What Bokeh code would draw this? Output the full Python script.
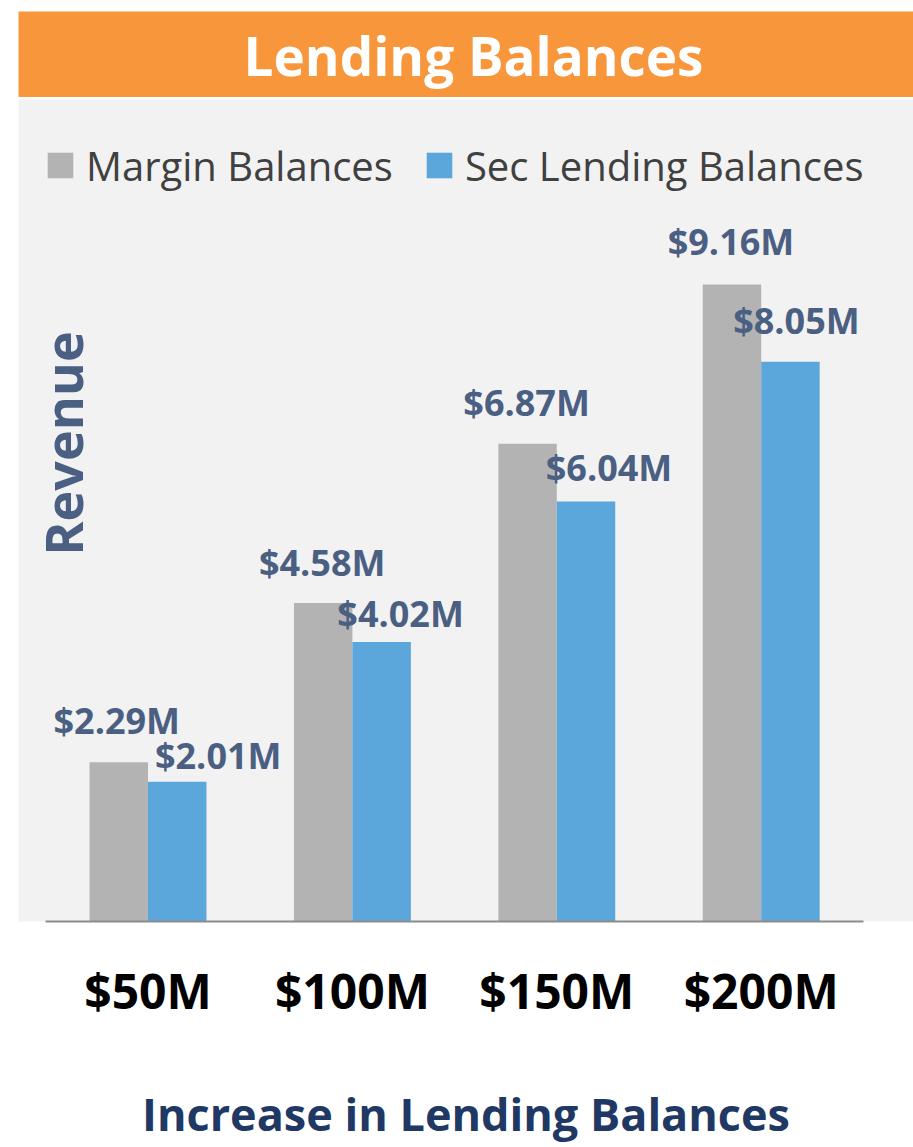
import math
from bokeh.plotting import figure
from bokeh.models import ColumnDataSource, Range1d, FixedTicker, Label, LinearAxis
from bokeh.transform import dodge
from bokeh.layouts import column
from bokeh.embed import file_html
from bokeh.resources import INLINE

# ---- data ----
categories = ["$50M", "$100M", "$150M", "$200M"]
margin_balances = [2.29, 4.58, 6.87, 9.16]
sec_lending_balances = [2.01, 4.02, 6.04, 8.05]
series_names = ["Margin Balances", "Sec Lending Balances"]
title_text = "Lending Balances"
y_title = "Revenue"
x_title = "Increase in Lending Balances"

# ---- style ----
ORANGE = "#F7963A"
PANEL = "#F2F2F2"
GRAY = "#B3B3B3"
BLUE = "#5BA7DB"
LABEL_COLOR = "#4A5F82"
NAVY = "#1F3864"
FONT = "Open Sans"

# label offsets in screen px (style only)
m_dx = [-2, -1, -1, -1]
m_dy = [-42, -41, -41, -43]
s_dx = [41, 19, 23, 6]
s_dy = [-26, -28, -34, -41]

idx = list(range(len(categories)))
src = ColumnDataSource(dict(
    x=idx,
    margin=margin_balances,
    sec=sec_lending_balances,
    mlab=[f"${v:.2f}M" for v in margin_balances],
    slab=[f"${v:.2f}M" for v in sec_lending_balances],
    mdx=m_dx, mdy=m_dy, sdx=s_dx, sdy=s_dy,
))

W = 913

# ---- header ----
hdr = figure(width=W, height=97, output_backend="svg", toolbar_location=None,
             x_range=Range1d(0, 1), y_range=Range1d(0, 1),
             x_axis_location=None, y_axis_location=None,
             min_border_top=11, min_border_left=16, min_border_right=0, min_border_bottom=0)
hdr.background_fill_color = ORANGE
hdr.border_fill_color = "white"
hdr.outline_line_color = None
hdr.xgrid.visible = False
hdr.ygrid.visible = False
hdr.add_layout(Label(x=455, y=42, x_units="screen", y_units="screen", text=title_text,
                     text_align="center", text_baseline="middle",
                     text_font=FONT, text_font_style="bold", text_font_size="53px",
                     text_color="white"))

# ---- main chart ----
unit_px = 204.4
x_lo = (18 - 147.5) / unit_px
x_hi = (W - 147.5) / unit_px
y_top = 822 / 69.54

p = figure(width=W, height=1048, output_backend="svg", toolbar_location=None,
           x_range=Range1d(x_lo, x_hi), y_range=Range1d(0, y_top),
           y_axis_location=None,
           min_border_top=0, min_border_left=18, min_border_right=0, min_border_bottom=226)
p.background_fill_color = PANEL
p.border_fill_color = "white"
p.outline_line_color = None
p.xgrid.visible = False
p.ygrid.visible = False

bw = 0.286
p.vbar(x=dodge("x", -bw / 2, range=p.x_range), top="margin", width=bw, source=src,
       fill_color=GRAY, line_color=None, legend_label=series_names[0])
p.vbar(x=dodge("x", bw / 2, range=p.x_range), top="sec", width=bw, source=src,
       fill_color=BLUE, line_color=None, legend_label=series_names[1])

p.text(x=dodge("x", -bw / 2, range=p.x_range), y="margin", text="mlab", source=src,
       x_offset="mdx", y_offset="mdy", text_align="center", text_baseline="middle",
       text_font={"value": FONT}, text_font_style="bold", text_font_size="36px",
       text_color=LABEL_COLOR)
p.text(x=dodge("x", bw / 2, range=p.x_range), y="sec", text="slab", source=src,
       x_offset="sdx", y_offset="sdy", text_align="center", text_baseline="middle",
       text_font={"value": FONT}, text_font_style="bold", text_font_size="36px",
       text_color=LABEL_COLOR)

ax = p.xaxis[0]
ax.ticker = FixedTicker(ticks=idx)
ax.major_label_overrides = {i: c for i, c in zip(idx, categories)}
ax.bounds = (-0.5, len(categories) - 0.5)
ax.axis_line_color = "#8C8C8C"
ax.axis_line_width = 2
ax.major_tick_line_color = None
ax.minor_tick_line_color = None
ax.major_label_text_font = FONT
ax.major_label_text_font_style = "bold"
ax.major_label_text_font_size = "48px"
ax.major_label_text_color = "black"
ax.major_label_standoff = 30

# second, invisible axis carrying the x title
title_center = (472 - 147.5) / unit_px
ax2 = LinearAxis(ticker=FixedTicker(ticks=[]), bounds=(title_center - 1, title_center + 1),
                 axis_line_color=None, major_tick_line_color=None, minor_tick_line_color=None,
                 major_tick_in=0, major_tick_out=0, minor_tick_in=0, minor_tick_out=0,
                 major_label_standoff=0,
                 axis_label=x_title, axis_label_standoff=57,
                 axis_label_text_font=FONT, axis_label_text_font_style="bold",
                 axis_label_text_font_size="45px", axis_label_text_color=NAVY)
p.add_layout(ax2, "below")

legend = p.legend[0]
legend.location = "top_left"
legend.orientation = "horizontal"
legend.margin = 26
legend.padding = 0
legend.spacing = 30
legend.glyph_width = 32
legend.glyph_height = 32
legend.label_height = 80
legend.label_standoff = 10
legend.label_text_font = FONT
legend.label_text_font_size = "40px"
legend.label_text_color = "#404040"
legend.border_line_color = None
legend.background_fill_alpha = 0

p.add_layout(Label(x=44, y=478, x_units="screen", y_units="screen", text=y_title,
                   angle=math.pi / 2, text_align="center", text_baseline="middle",
                   text_font=FONT, text_font_style="bold", text_font_size="52px",
                   text_color=LABEL_COLOR))

layout = column(hdr, p, spacing=2)
open("out.html", "w").write(file_html(layout, INLINE))
